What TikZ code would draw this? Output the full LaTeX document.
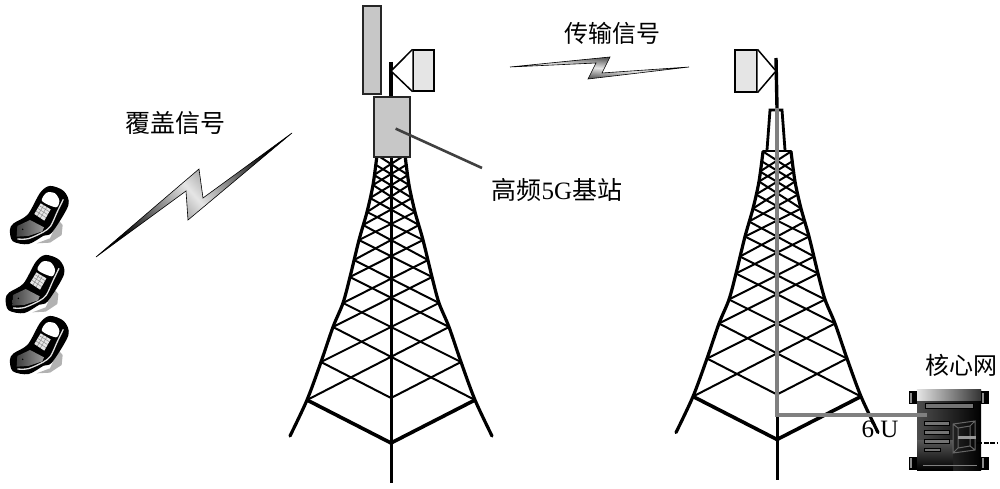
\documentclass[tikz,border=0pt]{standalone}
\usepackage{fontspec}
\setmainfont{Liberation Serif}
\newfontfamily\cjk{Noto Sans CJK SC}
\usetikzlibrary{positioning,shadings}
\newcommand{\lbl}[1]{{\fontsize{24}{24}\selectfont\cjk #1}}
\tikzset{
	lattice/.style={black,line width=2pt},
	towerleg/.style={black,line width=3.2pt,line cap=round},
	boxgray/.style={draw=black!85,line width=1.2pt,fill=black!22,inner sep=0pt},
	boxdot/.style={draw=black,line width=1.1pt,fill=black!10,inner sep=0pt},
	feed/.style={black!50,line width=3.4pt},
	bolt/.style={draw=black,line width=.6pt,line join=miter,left color=black,right color=black,middle color=black!10},
	slot/.style={draw=black,line width=1pt,fill=black!55},
	pics/tower/.style={code={
		\foreach \i/\dx/\yy in {0/84/400,1/70/362,2/58/327,3/48/303,4/41/277,5/37/260,6/32/240,7/28/225,8/24/212,9/21/198,10/18/185,11/17/175,12/15/165,13/14/155}{
			\coordinate (l\i) at (-\dx,\yy);
			\coordinate (r\i) at (\dx,\yy);
		}
		\foreach \i [evaluate=\i as \j using int(\i+2)] in {0,...,11}{
			\draw[lattice] (l\i) -- (r\j);
			\draw[lattice] (r\i) -- (l\j);
		}
		\draw[lattice] (l1) -- (0,398) -- (r1);
		\draw[lattice] (l13) -- (r13);
		\draw[towerleg,smooth] plot coordinates {(-101,436) (l0) (l1) (l2) (l3) (l4) (l6) (l8) (l10) (l13)};
		\draw[towerleg,smooth] plot coordinates {(101,436) (r0) (r1) (r2) (r3) (r4) (r6) (r8) (r10) (r13)};
		\draw[black,line width=3.6pt,line join=round] (l0) -- (0,443) -- (r0);
		\draw[black,line width=3pt] (0,155) -- (0,483);
	}},
	pics/handset/.style={code={
		\fill[black!30] (150,205) -- (175,150) -- (188,165) -- (185,195) -- (150,218) -- (110,220) -- cycle;
		\draw[black,fill=black,line width=1.5pt,smooth cycle] plot coordinates {(32,180) (40,212) (85,220) (130,195) (155,185) (203,105) (190,65) (150,50) (122,70) (85,135) (42,162)};
		\draw[black!12,line width=1.3pt,smooth] plot coordinates {(190,88) (172,125) (152,168) (130,186) (85,206) (52,207)};
		\fill[white,smooth cycle] plot coordinates {(126,93) (140,68) (165,70) (178,92) (168,112)};
		\fill[black!10] (122,100) -- (152,118) -- (133,152) -- (103,132) -- cycle;
		\draw[black!45,line width=.5pt] (113,115) -- (143,134) (118,107) -- (148,125) (108,123) -- (138,143) (131,106) -- (112,138) (140,112) -- (121,144);
		\fill[left color=black!75,right color=black!40] (52,168) -- (90,150) -- (132,172) -- (127,184) -- (85,198) -- (50,200) -- cycle;
		\fill[black] (68,178) circle (2.4);
	}}
}

\begin{document}
\begin{tikzpicture}[x=1pt,y=-1pt]
\useasboundingbox (0,0) rectangle (1000,489);

\pic at (391,0) {tower};
\pic at (777,-3.5) {tower};

\node[boxgray,minimum width=18pt,minimum height=88pt] (panel) at (372,50) {};
\node[boxgray,minimum width=36pt,minimum height=60pt] (bts) at (392,127) {};
\node[boxdot,minimum width=21pt,minimum height=41pt] (hornA) at (423.5,70.5) {};
\node[boxdot,minimum width=22pt,minimum height=42pt] (hornB) at (746,71) {};
\coordinate (mastA) at (391,62);
\coordinate (mastB) at (776,58);
\coordinate (feedtop) at (777,108);
\coordinate (feedbend) at (777,415);
\coordinate (feedend) at (927,415);
\coordinate (leaderend) at (482,168);

\draw[black,line width=3.4pt] (mastA) -- (bts.north -| mastA);
\draw[black,line width=1.5pt,fill=white] (hornA.north west) -- (391,71) -- (hornA.south west);
\draw[black,line width=3.4pt] (mastB) -- (feedtop);
\draw[black,line width=1.5pt,fill=white] (hornB.north east) -- (mastB |- hornB) -- (hornB.south east);
\draw[black,line width=2.8pt] (767,150) -- (770,110) -- (782,110) -- (785,150);

\draw[black!75,line width=2.6pt,shorten <=4pt] (bts.center) -- (leaderend);

\path[bolt,shading angle=-49] (96,257) -- (199,169) -- (203,198) -- (292,133) -- (188,220) -- (186,191) -- cycle;
\path[bolt,shading angle=-5] (510,67) -- (610,57) -- (602,73) -- (689,67) -- (588,79) -- (596,63) -- cycle;

\node (cover) at (175.5,123) {{\fontsize{25}{25}\selectfont\cjk 覆盖信号}};
\node (relay) at (612,33) {\lbl{传输信号}};
\node (btslabel) at (557,190) {\fontsize{25}{25}\selectfont{\cjk 高频}5G{\cjk 基站}};
\node (corelabel) at (961,365) {\lbl{核心网}};

\pic[scale=1/3] at (0,170) {handset};
\pic[scale=1/3] at (-4.3,239) {handset};
\pic[scale=1/3] at (0,300) {handset};

\node[minimum width=64pt,minimum height=80pt,inner sep=0pt,left color=black!70,right color=black,shade] (core) at (949,430) {};
\fill[left color=black!10,right color=black!80] (core.north west) rectangle (981,400);
\fill[bottom color=black,top color=black!65] (917,440) rectangle (953,470);
\foreach \xx/\yy in {913/397.5,985/397.5,913/463,985/463}{
	\fill[black] (\xx-4,\yy-6.5) rectangle (\xx+4,\yy+6.5);
	\fill[black!45] (\xx-3,\yy-5) rectangle (\xx-1,\yy+5);
}
\draw[slot] (925,403) rectangle (973,408);
\foreach \yy in {421,430,439}{
	\draw[slot] (924,\yy) rectangle (949,\yy+4);
}
\draw[slot] (924,448) rectangle (940,451);
\draw[black!50,line width=.8pt] (923,465) -- (977,465);
\draw[black!60,line width=1pt] (953,424) -- (975,421) -- (975,450) -- (953,453) -- cycle (958,428) -- (970,426) -- (970,446) -- (958,448) -- cycle (953,424) -- (958,428) (975,421) -- (970,426) (975,450) -- (970,446) (953,453) -- (958,448);
\fill[black!40] (958,436) rectangle (976,439);
\draw[black,line width=2pt,dash pattern=on 5pt off 1.5pt] (977,443) -- (998,443);

\draw[feed] (feedtop) -- (feedbend) -- (feedend);
\node (sixu) at (880,429) {\fontsize{25}{25}\selectfont 6 U};

\end{tikzpicture}
\end{document}
